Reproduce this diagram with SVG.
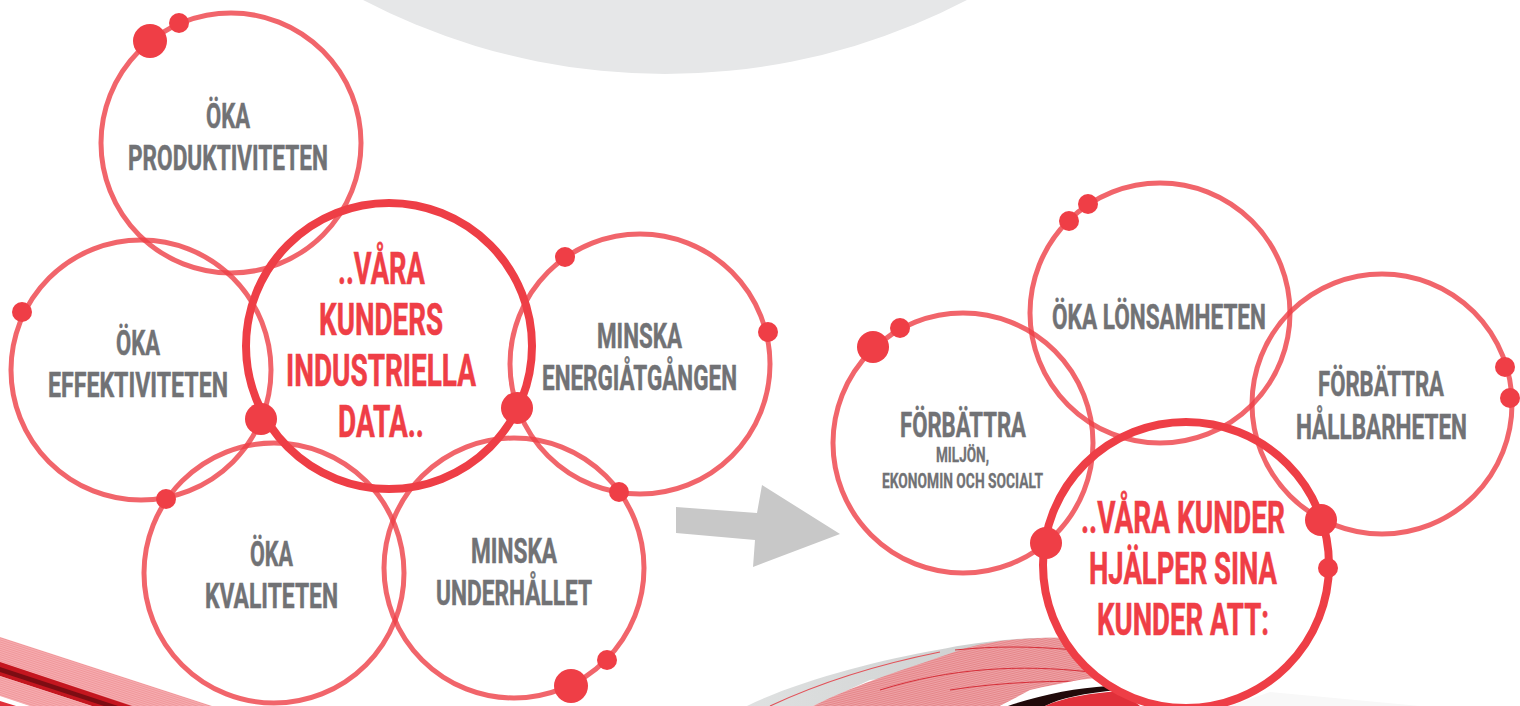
<svg xmlns="http://www.w3.org/2000/svg" width="1520" height="706" viewBox="0 0 1520 706">
<defs>
<pattern id="hatchL" width="2" height="2" patternUnits="userSpaceOnUse" patternTransform="rotate(18)"><rect width="2" height="2" fill="#f6aeb1"/><rect width="2" height="1" fill="#f0979b"/></pattern>
<pattern id="hatchR" width="2" height="2" patternUnits="userSpaceOnUse" patternTransform="rotate(-14)"><rect width="2" height="2" fill="#eea3a6"/><rect width="2" height="1" fill="#e5868a"/></pattern>
<linearGradient id="greyFade" x1="0" x2="1" y1="0" y2="0"><stop offset="0" stop-color="#dfe1e1"/><stop offset="1" stop-color="#c9cbcb"/></linearGradient>
</defs>
<style>
.ring{fill:none;stroke:#ee3e46;stroke-opacity:.8;stroke-width:5}
.hub{fill:none;stroke:#ee3e46;stroke-width:8}
.dot{fill:#ef3e46}
text{font-family:"Roboto","Liberation Sans",sans-serif;font-weight:700}
.g{fill:#717275;font-size:35px;stroke:#717275;stroke-width:.5}
.s{fill:#717275;font-size:20px;stroke:#717275;stroke-width:.3}
.r{fill:#ef3e46;font-size:45px;stroke:#ef3e46;stroke-width:.6}
</style>
<rect width="1520" height="706" fill="#fff"/>
<g id="backdrop"><circle cx="665" cy="-579" r="653" fill="#e6e7e8"/></g>
<g id="ribbon-left">
<path d="M0 637L212 706H0Z" fill="url(#hatchL)"/>
<path d="M0 662L132 706H92L0 676Z" fill="#c4161f"/>
<path d="M0 667L118 706H104L0 672Z" fill="#7c0d13"/>
<path d="M0 676L92 706H48L0 690Z" fill="url(#hatchL)"/>
<path d="M0 696L30 706H0Z" fill="#fff"/>
<path d="M0 701L16 706H0Z" fill="#e0303a"/>
</g>
<g id="ribbon-right">
<path d="M747 706C800 680 880 660 937 650C975 642 1020 637 1060 638L1060 660L870 680L813 706Z" fill="url(#greyFade)"/>
<path d="M770 706C830 678 890 662 940 652" fill="none" stroke="#e2535a" stroke-width="1.2"/>
<path d="M813 706C860 682 910 668 960 650C990 640 1030 637 1070 638L1115 690C1090 680 1060 682 1030 690L1000 706Z" fill="url(#hatchR)"/>
<path d="M955 650C995 646 1030 646 1075 650M880 690C950 668 1020 664 1090 672M950 690C1000 682 1060 680 1105 682" fill="none" stroke="#d62e38" stroke-width="1"/>
<path d="M1000 706C1030 690 1065 680 1105 677L1120 684C1080 688 1050 695 1030 706Z" fill="#fff"/>
<path d="M1008 706C1040 695 1075 688 1108 686L1118 690C1085 693 1060 698 1045 706Z" fill="#200a0a"/>
<path d="M1045 706C1065 697 1090 693 1122 691L1140 706Z" fill="#e0303a"/>
<path d="M1270 692L1420 706H1230Z" fill="#f8f8f8"/>
<circle cx="1186" cy="565" r="143" fill="#fff"/>
</g>
<g id="connector-arrow"><path d="M676 507L757 513L762 485L840 534L753 567L755 540L676 533Z" fill="#c8c8c8"/></g>
<g id="connectors"></g>
<g id="node-produktiviteten"><circle class="ring" cx="231" cy="143" r="130"/><circle class="dot" cx="150" cy="41" r="17"/><circle class="dot" cx="179" cy="23" r="10"/>
<text class="g" x="206" y="128" textLength="44" lengthAdjust="spacingAndGlyphs">ÖKA</text><text class="g" x="128" y="170" textLength="200" lengthAdjust="spacingAndGlyphs">PRODUKTIVITETEN</text></g>
<g id="node-effektiviteten"><circle class="ring" cx="141" cy="370" r="130"/><circle class="dot" cx="22" cy="312" r="10"/>
<text class="g" x="116" y="355" textLength="44" lengthAdjust="spacingAndGlyphs">ÖKA</text><text class="g" x="48" y="397" textLength="180" lengthAdjust="spacingAndGlyphs">EFFEKTIVITETEN</text></g>
<g id="node-energi"><circle class="ring" cx="640" cy="364" r="130"/><circle class="dot" cx="565" cy="257" r="10"/><circle class="dot" cx="768" cy="332" r="10"/>
<text class="g" x="597" y="348" textLength="85" lengthAdjust="spacingAndGlyphs">MINSKA</text><text class="g" x="542" y="390" textLength="195" lengthAdjust="spacingAndGlyphs">ENERGIÅTGÅNGEN</text></g>
<g id="node-kvaliteten"><circle class="ring" cx="274" cy="573" r="130"/><circle class="dot" cx="166" cy="499" r="10"/>
<text class="g" x="250" y="566" textLength="43" lengthAdjust="spacingAndGlyphs">ÖKA</text><text class="g" x="205" y="608" textLength="133" lengthAdjust="spacingAndGlyphs">KVALITETEN</text></g>
<g id="node-underhallet"><circle class="ring" cx="514" cy="568" r="130"/><circle class="dot" cx="619" cy="492" r="10"/><circle class="dot" cx="571" cy="686" r="17"/><circle class="dot" cx="607" cy="660" r="10"/>
<text class="g" x="471" y="563" textLength="86" lengthAdjust="spacingAndGlyphs">MINSKA</text><text class="g" x="436" y="605" textLength="156" lengthAdjust="spacingAndGlyphs">UNDERHÅLLET</text></g>
<g id="node-industriella"><circle class="hub" cx="389" cy="346" r="143"/><circle class="dot" cx="261" cy="419" r="16"/><circle class="dot" cx="517" cy="408" r="16"/>
<text class="r" x="338" y="284" textLength="87" lengthAdjust="spacingAndGlyphs">..VÅRA</text><text class="r" x="319" y="335" textLength="124" lengthAdjust="spacingAndGlyphs">KUNDERS</text><text class="r" x="286" y="386" textLength="190" lengthAdjust="spacingAndGlyphs">INDUSTRIELLA</text><text class="r" x="338" y="437" textLength="86" lengthAdjust="spacingAndGlyphs">DATA..</text></g>
<g id="node-forbattra"><circle class="ring" cx="963" cy="443" r="130"/><circle class="dot" cx="873" cy="347" r="16"/><circle class="dot" cx="900" cy="328" r="10"/>
<text class="g" x="900" y="437" textLength="126" lengthAdjust="spacingAndGlyphs">FÖRBÄTTRA</text><text class="s" x="936" y="462" textLength="53" lengthAdjust="spacingAndGlyphs">MILJÖN,</text><text class="s" x="882" y="488" textLength="161" lengthAdjust="spacingAndGlyphs">EKONOMIN OCH SOCIALT</text></g>
<g id="node-lonsamheten"><circle class="ring" cx="1160" cy="313" r="130"/><circle class="dot" cx="1069" cy="221" r="10"/><circle class="dot" cx="1088" cy="204" r="10"/>
<text class="g" x="1052" y="329" textLength="214" lengthAdjust="spacingAndGlyphs">ÖKA LÖNSAMHETEN</text></g>
<g id="node-hallbarheten"><circle class="ring" cx="1382" cy="404" r="130"/><circle class="dot" cx="1505" cy="367" r="10"/><circle class="dot" cx="1510" cy="398" r="10"/>
<text class="g" x="1318" y="396" textLength="126" lengthAdjust="spacingAndGlyphs">FÖRBÄTTRA</text><text class="g" x="1296" y="439" textLength="171" lengthAdjust="spacingAndGlyphs">HÅLLBARHETEN</text></g>
<g id="node-kunder"><circle class="hub" cx="1186" cy="565" r="143"/><circle class="dot" cx="1321" cy="520" r="16"/><circle class="dot" cx="1046" cy="543" r="16"/><circle class="dot" cx="1328" cy="568" r="10"/>
<text class="r" x="1081" y="533" textLength="204" lengthAdjust="spacingAndGlyphs">..VÅRA KUNDER</text><text class="r" x="1089" y="584" textLength="188" lengthAdjust="spacingAndGlyphs">HJÄLPER SINA</text><text class="r" x="1097" y="635" textLength="172" lengthAdjust="spacingAndGlyphs">KUNDER ATT:</text></g>
</svg>
